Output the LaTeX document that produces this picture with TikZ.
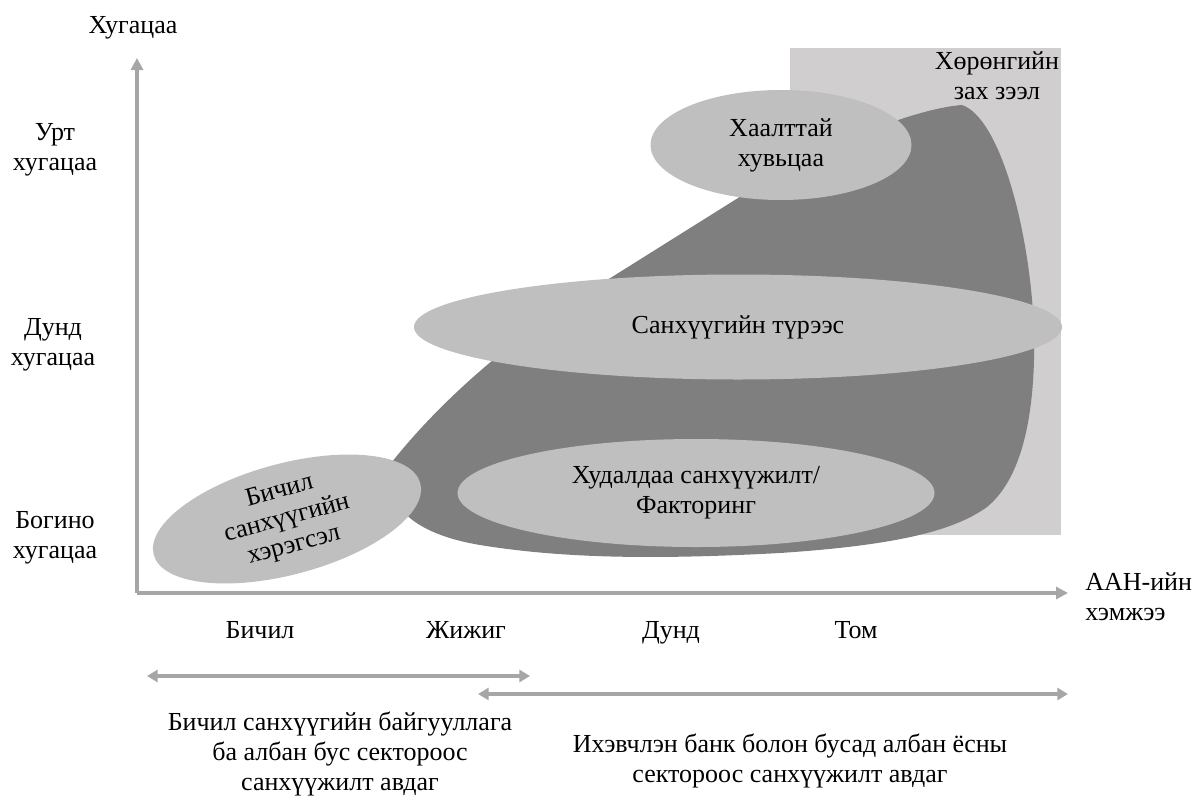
\documentclass[tikz,border=0pt]{standalone}
\usepackage{fontspec}
\setmainfont{Liberation Serif}
\usetikzlibrary{shapes.geometric,arrows.meta}
\definecolor{axisgray}{HTML}{A6A6A6}
\definecolor{lightell}{HTML}{BFBFBF}
\definecolor{darkarea}{HTML}{7F7F7F}
\definecolor{rectgray}{HTML}{D0CECF}
\tikzset{
  lbl/.style={align=center,font=\fontsize{19.5}{22.5}\selectfont,inner sep=0pt},
  ell/.style={ellipse,fill=lightell,draw=none,align=center,inner sep=0pt,font=\fontsize{19.5}{22.5}\selectfont},
  axisline/.style={draw=axisgray,line width=2.4pt,-{Triangle[length=9pt,width=9pt]}},
  rangeline/.style={draw=axisgray,line width=2.6pt,{Triangle[length=8pt,width=9pt]}-{Triangle[length=8pt,width=9pt]}}
}
\begin{document}
\begin{tikzpicture}[x=0.75pt,y=-0.75pt]
\useasboundingbox (0,0) rectangle (1195,803);
% capital market background
\fill[rectgray] (790,48) rectangle (1061,535);
% dark area
\fill[darkarea] (388,467) .. controls (440,400) and (520,330) .. (612,277)
  -- (738,198)
  .. controls (830,140) and (920,108) .. (962,105)
  .. controls (1000,118) and (1030,230) .. (1034,330)
  .. controls (1036,420) and (1020,480) .. (987,507)
  .. controls (955,530) and (900,545) .. (780,553)
  .. controls (650,560) and (560,558) .. (480,545)
  .. controls (420,535) and (385,510) .. (388,467) -- cycle;
% ellipses
\node[ell,minimum width=195.75pt,minimum height=82.5pt] (share) at (781,145) {Хаалттай\\хувьцаа};
\node[ell,minimum width=486pt,minimum height=78.75pt] (lease) at (738,327) {Санхүүгийн түрээс};
\node[ell,minimum width=357.75pt,minimum height=81pt] (trade) at (696,493) {Худалдаа санхүүжилт/\\Факторинг};
\node[ell,minimum width=207pt,minimum height=63pt,rotate=15,font=\fontsize{19.5}{21}\selectfont] (micro) at (287,519) {Бичил\\санхүүгийн\\хэрэгсэл};
% market label
\node[lbl] (market) at (997,76) {Хөрөнгийн\\зах зээл};
% axes
\coordinate (O) at (137,593);
\coordinate (ytip) at (137,58);
\coordinate (xtip) at (1068,593);
\draw[axisline] (O) -- (ytip);
\draw[axisline] (O) -- (xtip);
\node[lbl] (ytitle) at (133,28) {Хугацаа};
\node[lbl] (long) at (55,150) {Урт\\хугацаа};
\node[lbl] (mid) at (53,345) {Дунд\\хугацаа};
\node[lbl] (short) at (55,538) {Богино\\хугацаа};
\node[lbl,align=left,anchor=west] (xtitle) at (1085,597) {ААН-ийн\\хэмжээ};
\node[lbl,anchor=base] (s1) at (260,638) {Бичил};
\node[lbl,anchor=base] (s2) at (466,638) {Жижиг};
\node[lbl,anchor=base] (s3) at (671,638) {Дунд};
\node[lbl,anchor=base] (s4) at (856,638) {Том};
% ranges
\coordinate (r1a) at (147,676);
\coordinate (r1b) at (530,676);
\coordinate (r2a) at (478,694);
\coordinate (r2b) at (1068,694);
\draw[rangeline] (r1a) -- (r1b);
\draw[rangeline] (r2a) -- (r2b);
\node[lbl] (t1) at (340,754) {Бичил санхүүгийн байгууллага\\ба албан бус сектороос\\санхүүжилт авдаг};
\node[lbl] (t2) at (790,761) {Ихэвчлэн банк болон бусад албан ёсны\\сектороос санхүүжилт авдаг};
\end{tikzpicture}
\end{document}
